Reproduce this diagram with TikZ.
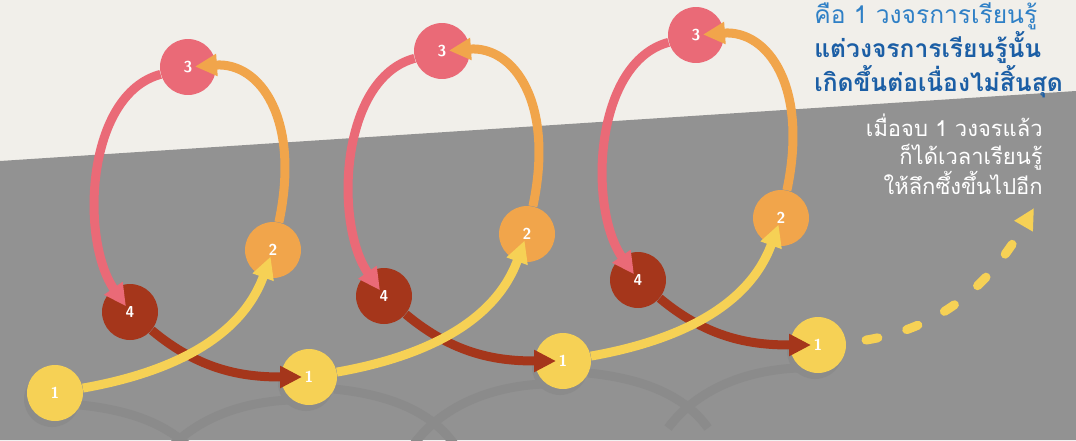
\documentclass[tikz,border=0pt]{standalone}
\usepackage{fontspec}
\newfontfamily\thaifont[Script=Thai]{Loma}
\usetikzlibrary{arrows.meta,positioning}
\definecolor{paper}{HTML}{F1EFEA}
\definecolor{floor}{HTML}{929292}
\definecolor{floordark}{HTML}{8B8B8B}
\definecolor{yelc}{HTML}{F6D155}
\definecolor{orac}{HTML}{F1A54B}
\definecolor{pinc}{HTML}{EA6A77}
\definecolor{broc}{HTML}{A5361B}
\definecolor{bluel}{HTML}{2F80C6}
\definecolor{blued}{HTML}{1B5EA5}

\begin{document}
\begin{tikzpicture}[x=0.02cm,y=0.02cm,
  stage/.style={circle,minimum size=1.12cm,inner sep=0pt},
  flow/.style={line width=0.18cm,-{Triangle[length=0.44cm,width=0.42cm]},shorten >=0.14cm},
  num/.style={font=\sffamily\bfseries\fontsize{9}{9}\selectfont,text=white},
  shade/.style={floordark,line width=0.18cm},
  thai/.style={font=\thaifont\fontsize{14}{15.5}\selectfont}]
  % background
  \fill[paper] (0,0) rectangle (1076,-440);
  \fill[floor] (0,-161) -- (1076,-91) -- (1076,-440) -- (0,-440) -- cycle;
  \useasboundingbox (0,0) rectangle (1076,-440);
  % reflections on the floor
  \foreach \dx/\dy in {0/0,254/16,508/32}{
    \draw[shade] ({80+\dx},{-405+\dy}) .. controls ({130+\dx},{-410+\dy}) and ({175+\dx},{-425+\dy}) .. ({200+\dx},{-460+\dy});
    \draw[shade] ({160+\dx},{-460+\dy}) .. controls ({190+\dx},{-420+\dy}) and ({240+\dx},{-402+\dy}) .. ({290+\dx},{-400+\dy});
    \fill[floordark] ({52+\dx},{-399+\dy}) circle (28);
  }
  \fill[floordark] (815,-351) circle (28);
  % the four stages of each cycle
  \foreach \i/\dx/\dy in {1/0/0,2/254/16,3/508/32}{
    \node[stage,fill=yelc] (a\i) at ({55+\dx},{-393+\dy}) {};
    \node[stage,fill=orac] (b\i) at ({273+\dx},{-250+\dy}) {};
    \node[stage,fill=pinc] (c\i) at ({188+\dx},{-67+\dy}) {};
    \node[stage,fill=broc] (d\i) at ({130+\dx},{-312+\dy}) {};
  }
  \node[stage,fill=yelc] (a4) at (818,-345) {};
  % arrows
  \foreach \i/\j in {1/2,2/3,3/4}
    \draw[flow,broc] (d\i) to[out=-40,in=180] (a\j.center);
  \foreach \i in {1,2,3}{
    \draw[flow,yelc] (a\i) to[out=10,in=-110] (b\i.center);
    \draw[flow,orac] (b\i) to[out=78,in=4,out distance=2.1cm,in distance=1.45cm] (c\i.center);
    \draw[flow,pinc] (c\i) to[out=195,in=125,out distance=1.55cm,in distance=1.75cm] (d\i.center);
  }
  \coordinate (onward) at (1034,-208);
  \draw[yelc,line width=0.18cm,line cap=round,dash pattern=on 0.24cm off 0.6cm,dash phase=0.44cm,
    -{Triangle[length=0.42cm,width=0.4cm]}] (a4) to[out=5,in=-120] (onward);
  % numbers
  \foreach \i in {1,2,3}{
    \node[num] (n1\i) at (a\i) {1};
    \node[num] (n2\i) at (b\i) {2};
    \node[num] (n3\i) at (c\i) {3};
    \node[num] (n4\i) at (d\i) {4};
  }
  \node[num] (n14) at (a4) {1};
  % texts
  \node[thai,anchor=north west,align=left,inner sep=0pt] (headline) at (814,-2)
    {\textcolor{bluel}{คือ 1 วงจรการเรียนรู้}\\
     \textcolor{blued}{\bfseries แต่วงจรการเรียนรู้นั้น}\\
     \textcolor{blued}{\bfseries เกิดขึ้นต่อเนื่องไม่สิ้นสุด}};
  \node[thai,font=\thaifont\fontsize{12.5}{15.5}\selectfont,anchor=north east,align=right,inner sep=0pt,text=white] (sidenote) at (1043,-114)
    {เมื่อจบ 1 วงจรแล้ว\\ก็ได้เวลาเรียนรู้\\ให้ลึกซึ้งขึ้นไปอีก};
\end{tikzpicture}
\end{document}
